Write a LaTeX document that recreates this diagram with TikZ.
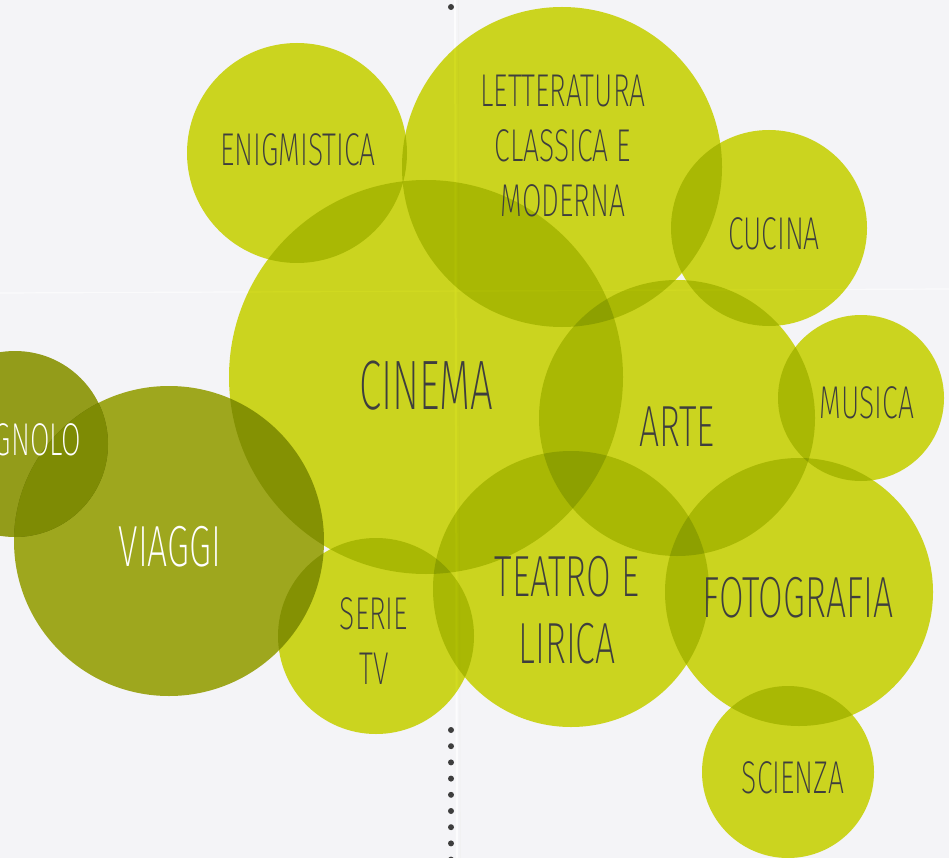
\documentclass[tikz,border=0pt]{standalone}
\usepackage{fontspec}
\setmainfont{Fira Sans}[UprightFont={* ExtraLight}, FakeStretch=0.615]
\newfontfamily\bigfont{Fira Sans}[UprightFont={* ExtraLight}, FakeStretch=0.575]
\usetikzlibrary{positioning}

\definecolor{paper}{RGB}{244,244,247}
\definecolor{lime}{RGB}{213,222,33}
\definecolor{olive}{RGB}{166,175,32}
\definecolor{olivedark}{RGB}{154,164,27}
\definecolor{olivedeep}{RGB}{126,139,4}
\definecolor{ink}{RGB}{62,62,62}

\tikzstyle{bubble} = [fill=lime]
\tikzstyle{darkbubble} = [fill=olive]
\tikzstyle{tsmall} = [text=ink, align=center, inner sep=0pt, font=\fontsize{46}{55}\selectfont]
\tikzstyle{tmid} = [text=ink, align=center, inner sep=0pt, font=\fontsize{58}{67}\selectfont]
\tikzstyle{tbig} = [text=ink, align=center, inner sep=0pt, font=\bigfont\fontsize{70}{80}\selectfont]

\begin{document}
\begin{tikzpicture}[x=1pt, y=-1pt]

\useasboundingbox (0,0) rectangle (949,858);
\clip (0,0) rectangle (949,858);

%Paper and folds
\fill[paper] (0,0) rectangle (949,858);
\draw[white, opacity=0.8, line width=2pt] (455,0) -- (457,858);
\draw[black!6, line width=0.6pt] (458.3,0) -- (460.3,858);
\draw[white, opacity=0.6, line width=1.2pt] (0,293) -- (949,289);

%Bubbles
\begin{scope}[blend mode=multiply]
\fill[bubble] (297,153) circle (110pt);
\fill[bubble] (562,167) circle (160pt);
\fill[bubble] (769,228) circle (98pt);
\fill[bubble] (426,377) circle (197pt);
\fill[bubble] (677,418) circle (138pt);
\fill[bubble] (861,398) circle (83pt);
\fill[bubble] (376,636) circle (98pt);
\fill[bubble] (571,589) circle (138pt);
\fill[bubble] (799,592) circle (134pt);
\fill[bubble] (788,772) circle (86pt);
\fill[fill=olivedark] (15,444) circle (93pt);
\fill[darkbubble] (169,541) circle (155pt);
\end{scope}

%Overlap of the two dark bubbles
\begin{scope}
\clip (15,444) circle (93pt);
\fill[olivedeep] (169,541) circle (155pt);
\end{scope}

%Dotted line
\fill[ink] (451,7) circle (3pt);
\foreach \k in {0,...,8}
  \fill[ink] (451,730+16.2*\k) circle (3pt);

%Labels
\node[tsmall] (enigmistica) at (298,150) {ENIGMISTICA};
\node[tsmall] (letteratura) at (563,146) {LETTERATURA\\CLASSICA E\\MODERNA};
\node[tsmall] (cucina) at (774,234) {CUCINA};
\node[tbig] (cinema) at (426,386) {CINEMA};
\node[tmid] (arte) at (677,427) {ARTE};
\node[tsmall] (musica) at (867,403) {MUSICA};
\node[tsmall, text=white] (spagnolo) at (15,440) {SPAGNOLO};
\node[tmid, text=white] (viaggi) at (170,547) {VIAGGI};
\node[tsmall] (serie) at (374,641) {SERIE\\TV};
\node[tmid] (teatro) at (567,610) {TEATRO E\\LIRICA};
\node[tmid] (fotografia) at (798,598) {FOTOGRAFIA};
\node[tsmall] (scienza) at (793,778) {SCIENZA};

\end{tikzpicture}
\end{document}
